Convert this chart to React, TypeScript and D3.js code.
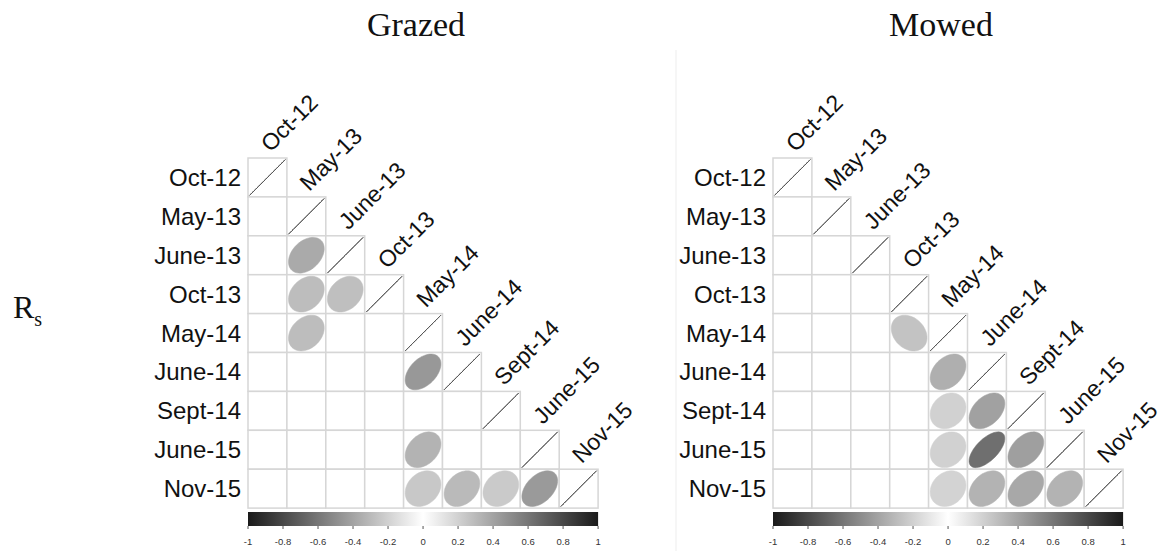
import React, { useEffect, useRef } from "react";
import * as d3 from "d3";

// sampling dates, same order for rows and columns
const dates = ["Oct-12", "May-13", "June-13", "Oct-13", "May-14", "June-14", "Sept-14", "June-15", "Nov-15"];

// Grazed: significant Spearman correlations (row, column, rho)
const grazedRows = ["June-13", "Oct-13", "Oct-13", "May-14", "June-14", "June-15", "Nov-15", "Nov-15", "Nov-15", "Nov-15"];
const grazedCols = ["May-13", "May-13", "June-13", "May-13", "May-14", "May-14", "May-14", "June-14", "Sept-14", "June-15"];
const grazedRho = [0.37, 0.29, 0.28, 0.29, 0.45, 0.33, 0.24, 0.3, 0.23, 0.44];

// Mowed
const mowedRows = ["May-14", "June-14", "Sept-14", "Sept-14", "June-15", "June-15", "June-15", "Nov-15", "Nov-15", "Nov-15", "Nov-15"];
const mowedCols = ["Oct-13", "May-14", "May-14", "June-14", "May-14", "June-14", "Sept-14", "May-14", "June-14", "Sept-14", "June-15"];
const mowedRho = [-0.26, 0.35, 0.2, 0.41, 0.2, 0.63, 0.42, 0.19, 0.33, 0.38, 0.33];

const colorTicks = [-1, -0.8, -0.6, -0.4, -0.2, 0, 0.2, 0.4, 0.6, 0.8, 1];

const W = 1164;
const H = 551;
const SANS = "'Liberation Sans', Arial, sans-serif";
const SERIF = "'Liberation Serif', 'Times New Roman', serif";

export default function App() {
  const ref = useRef<SVGSVGElement>(null);

  useEffect(() => {
    const svg = d3.select(ref.current);
    svg.selectAll("*").remove();

    const cell = 38.9;
    const top = 158;
    const n = dates.length;

    const color = d3.scaleLinear<string>().domain([-1, 0, 1]).range(["#1a1a1a", "#ffffff", "#1a1a1a"]);

    // corrplot style ellipse for a correlation rho
    const ellipse = (rho: number) => {
      const d = Math.acos(Math.max(-1, Math.min(1, rho)));
      return d3.range(0, 61).map((i) => {
        const t = (i / 60) * 2 * Math.PI;
        return [Math.cos(t + d / 2), -Math.cos(t - d / 2)] as [number, number];
      });
    };

    const defs = svg.append("defs");
    const grad = defs.append("linearGradient").attr("id", "cbar").attr("x1", "0%").attr("x2", "100%");
    colorTicks.forEach((v) => {
      grad.append("stop").attr("offset", ((v + 1) / 2) * 100 + "%").attr("stop-color", color(v));
    });

    // faint separator between the two panels
    svg.append("line").attr("x1", 676).attr("x2", 676).attr("y1", 50).attr("y2", H).attr("stroke", "#ededed");

    // R_s label
    const rs = svg.append("text").attr("x", 13).attr("y", 318).attr("font-family", SERIF).attr("font-size", 32).attr("fill", "#111");
    rs.append("tspan").text("R");
    rs.append("tspan").attr("font-size", 20).attr("dy", 8).text("s");

    const panels = [
      { title: "Grazed", left: 248, rows: grazedRows, cols: grazedCols, rho: grazedRho },
      { title: "Mowed", left: 773, rows: mowedRows, cols: mowedCols, rho: mowedRho }
    ];

    panels.forEach((p) => {
      const x = d3.scaleBand().domain(dates).range([p.left, p.left + n * cell]);
      const y = d3.scaleBand().domain(dates).range([top, top + n * cell]);
      const bw = x.bandwidth();
      const g = svg.append("g");

      svg.append("text")
        .attr("x", p.left + 168)
        .attr("y", 36)
        .attr("text-anchor", "middle")
        .attr("font-family", SERIF)
        .attr("font-size", 34)
        .attr("fill", "#111")
        .text(p.title);

      // lower triangle grid
      const cells: [string, string][] = [];
      dates.forEach((r, i) => dates.slice(0, i + 1).forEach((c) => cells.push([r, c])));
      g.selectAll("rect.cell")
        .data(cells)
        .enter()
        .append("rect")
        .attr("x", (d) => x(d[1])!)
        .attr("y", (d) => y(d[0])!)
        .attr("width", bw)
        .attr("height", bw)
        .attr("fill", "#fff")
        .attr("stroke", "#d6d6d6")
        .attr("stroke-width", 1.5);

      const line = d3.line<[number, number]>().x((d) => d[0] * bw * 0.46).y((d) => d[1] * bw * 0.46);

      // diagonal: rho = 1 collapses to a line
      g.selectAll("path.diag")
        .data(dates)
        .enter()
        .append("path")
        .attr("transform", (d) => `translate(${x(d)! + bw / 2},${y(d)! + bw / 2})`)
        .attr("d", line(ellipse(1)))
        .attr("fill", "none")
        .attr("stroke", "#555")
        .attr("stroke-width", 1);

      g.selectAll("path.ell")
        .data(p.rho)
        .enter()
        .append("path")
        .attr("transform", (d, i) => `translate(${x(p.cols[i])! + bw / 2},${y(p.rows[i])! + bw / 2})`)
        .attr("d", (d) => line(ellipse(d)))
        .attr("fill", (d) => color(d))
        .attr("stroke", (d) => color(d))
        .attr("stroke-width", 0.5);

      // row labels
      g.selectAll("text.row")
        .data(dates)
        .enter()
        .append("text")
        .attr("x", p.left - 7)
        .attr("y", (d) => y(d)! + bw / 2 + 8.5)
        .attr("text-anchor", "end")
        .attr("font-family", SANS)
        .attr("font-size", 24)
        .attr("fill", "#111")
        .text((d) => d);

      // column labels along the diagonal
      g.selectAll("text.col")
        .data(dates)
        .enter()
        .append("text")
        .attr("transform", (d) => `translate(${x(d)! + bw / 2 + 3},${y(d)! - 5}) rotate(-45)`)
        .attr("font-family", SANS)
        .attr("font-size", 23)
        .attr("fill", "#111")
        .text((d) => d);

      // colour bar
      const cx = d3.scaleLinear().domain([-1, 1]).range([p.left, p.left + n * cell]);
      svg.append("rect")
        .attr("x", cx(-1))
        .attr("y", 512)
        .attr("width", cx(1) - cx(-1))
        .attr("height", 14)
        .attr("fill", "url(#cbar)");
      const ax = svg.append("g");
      ax.selectAll("line")
        .data(colorTicks)
        .enter()
        .append("line")
        .attr("x1", (d) => cx(d))
        .attr("x2", (d) => cx(d))
        .attr("y1", 526)
        .attr("y2", 529)
        .attr("stroke", "#555");
      ax.selectAll("text")
        .data(colorTicks)
        .enter()
        .append("text")
        .attr("x", (d) => cx(d))
        .attr("y", 545)
        .attr("text-anchor", "middle")
        .attr("font-family", SANS)
        .attr("font-size", 9.5)
        .attr("fill", "#333")
        .text((d) => String(d));
    });
  }, []);

  return (
    <svg ref={ref} width={W} height={H} style={{ position: "absolute", left: 0, top: 0, background: "#fff" }} />
  );
}
